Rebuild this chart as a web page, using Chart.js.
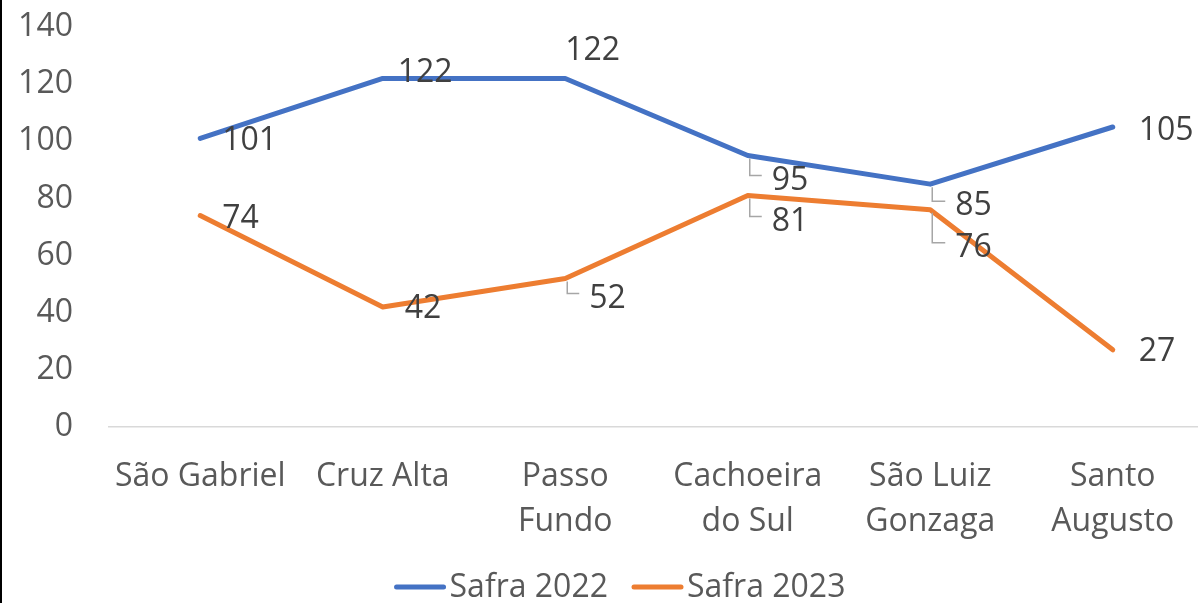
<!DOCTYPE html>
<html><head><meta charset="utf-8">
<script src="https://cdn.jsdelivr.net/npm/chart.js@4.4.0/dist/chart.umd.min.js"></script>
<style>
html,body{margin:0;padding:0;background:#fff;overflow:hidden;width:1198px;height:603px}
#wrap{position:absolute;left:0;top:0;width:1240px;height:603px}
#edge{position:absolute;left:0;top:0;width:2px;height:603px;background:#000;z-index:2}
</style></head><body>
<div id="wrap"><canvas id="c" width="1240" height="603"></canvas></div><div id="edge"></div>
<script>
const categories = [["São Gabriel"],["Cruz Alta"],["Passo","Fundo"],["Cachoeira","do Sul"],["São Luiz","Gonzaga"],["Santo","Augusto"]];
const seriesNames = ["Safra 2022","Safra 2023"];
const safra2022 = [101,122,122,95,85,105];
const safra2023 = [74,42,52,81,76,27];
const yMin = 0, yMax = 140, yStep = 20;

// label placement (style only)
const labelLayout = [
  [{dx:22,dy:0},{dx:15,dy:-8},{dx:0,dy:-30},{dx:24,dy:23,leader:true},{dx:25,dy:20,leader:true},{dx:26,dy:2}],
  [{dx:22,dy:1},{dx:22,dy:0},{dx:24,dy:18,leader:true},{dx:24,dy:24,leader:true},{dx:25,dy:36,leader:true},{dx:26,dy:0}]
];
const FONT = "'Open Sans', 'Noto Sans', sans-serif";
const FS = 32;

const dataLabels = {
  id:'dataLabels',
  afterDatasetsDraw(chart){
    const ctx = chart.ctx;
    ctx.save();
    ctx.font = FS + "px " + FONT;
    ctx.textAlign = 'left';
    ctx.textBaseline = 'middle';
    chart.data.datasets.forEach((ds,i)=>{
      const meta = chart.getDatasetMeta(i);
      meta.data.forEach((pt,j)=>{
        const L = labelLayout[i][j];
        const x = pt.x + L.dx, y = pt.y + L.dy;
        if (L.leader){
          ctx.strokeStyle = '#a6a6a6';
          ctx.lineWidth = 1.5;
          ctx.beginPath();
          ctx.moveTo(pt.x+2, pt.y+3);
          ctx.lineTo(pt.x+2, y-3);
          ctx.lineTo(x-10, y-3);
          ctx.stroke();
        }
        ctx.fillStyle = '#404040';
        ctx.fillText(String(ds.data[j]), x, y + 2);
      });
    });
    ctx.restore();
  }
};

const bottomLegend = {
  id:'bottomLegend',
  afterDraw(chart){
    const ctx = chart.ctx;
    ctx.save();
    ctx.font = FS + "px " + FONT;
    ctx.textBaseline = 'middle';
    ctx.textAlign = 'left';
    const lineW = 51, gap = 4, itemGap = 24, cy = 587, cx = 620;
    const items = chart.data.datasets.map(ds => ({text: ds.label, color: ds.borderColor, w: lineW + gap + ctx.measureText(ds.label).width}));
    const total = items.reduce((a,b)=>a+b.w,0) + itemGap*(items.length-1);
    let x = cx - total/2;
    items.forEach(it=>{
      ctx.strokeStyle = it.color;
      ctx.lineWidth = 5;
      ctx.lineCap = 'round';
      ctx.beginPath();
      ctx.moveTo(x+2, cy);
      ctx.lineTo(x+lineW-2, cy);
      ctx.stroke();
      ctx.fillStyle = '#595959';
      ctx.fillText(it.text, x + lineW + gap, cy + 1);
      x += it.w + itemGap;
    });
    ctx.restore();
  }
};

new Chart(document.getElementById('c'), {
  type:'line',
  data:{
    labels: categories,
    datasets:[
      {label:seriesNames[0], data:safra2022, borderColor:'#4472C4', backgroundColor:'#4472C4', borderWidth:5, pointRadius:0, borderCapStyle:'round', borderJoinStyle:'round', tension:0},
      {label:seriesNames[1], data:safra2023, borderColor:'#ED7D31', backgroundColor:'#ED7D31', borderWidth:5, pointRadius:0, borderCapStyle:'round', borderJoinStyle:'round', tension:0}
    ]
  },
  options:{
    responsive:false,
    animation:false,
    devicePixelRatio:1,
    layout:{padding:{top:27,right:36,left:0,bottom:0}},
    plugins:{
      legend:{display:false},
      tooltip:{enabled:false}
    },
    scales:{
      y:{
        min:yMin, max:yMax,
        ticks:{stepSize:yStep, padding:36, color:'#595959', font:{size:FS, family:FONT}},
        grid:{display:false, drawTicks:false},
        border:{display:false},
        afterFit(s){ s.width = 109; s.paddingTop = 0; s.paddingBottom = 0; }
      },
      x:{
        offset:true,
        ticks:{padding:27, color:'#595959', font:{size:FS, family:FONT, lineHeight:1.42}, maxRotation:0, autoSkip:false},
        grid:{display:false, drawTicks:false, offset:true},
        border:{display:true, color:'#d9d9d9', width:1.5},
        afterFit(s){ s.height = 176; s.paddingLeft = 0; s.paddingRight = 0; }
      }
    }
  },
  plugins:[dataLabels, bottomLegend]
});
</script>
</body></html>
